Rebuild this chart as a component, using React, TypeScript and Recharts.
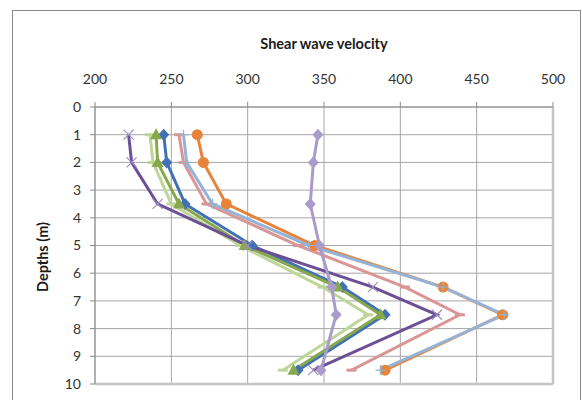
import React from 'react';
import { LineChart, Line, XAxis, YAxis, CartesianGrid, ReferenceLine } from 'recharts';

// depth (m) at each measured point
const depths = [1, 2, 3.5, 5, 6.5, 7.5, 9.5];

// shear wave velocity for each profile
const blueSeries = [245, 247, 259, 303, 362, 390, 333];
const orangeSeries = [267, 271, 286, 344, 428, 467, 390];
const lavenderSeries = [346, 343, 341, 347, 355, 358, 348];
const greenSeries = [240, 241, 255, 298, 359, 387, 330];
const lightGreenSeries = [236, 238, 250, 295, 349, 379, 323];
const purpleSeries = [222, 224, 241, 300, 382, 424, 343];
const pinkSeries = [255, 258, 273, 333, 403, 439, 368];
const lightBlueSeries = [258, 260, 277, 340, 428, 468, 387];

const velocityTicks = [200, 250, 300, 350, 400, 450, 500];
const depthTicks = [0, 1, 2, 3, 4, 5, 6, 7, 8, 9, 10];

type Marker = 'diamond' | 'circle' | 'triangle' | 'x' | 'dash' | 'plus';

interface SeriesDef {
  key: string;
  values: number[];
  color: string;
  marker: Marker;
}

// drawing order = stacking order
const series: SeriesDef[] = [
  { key: 'lightGreen', values: lightGreenSeries, color: '#bfd699', marker: 'dash' },
  { key: 'blue', values: blueSeries, color: '#4271b5', marker: 'diamond' },
  { key: 'green', values: greenSeries, color: '#87a94b', marker: 'triangle' },
  { key: 'purple', values: purpleSeries, color: '#6c5096', marker: 'x' },
  { key: 'pink', values: pinkSeries, color: '#d99694', marker: 'dash' },
  { key: 'orange', values: orangeSeries, color: '#e8833a', marker: 'circle' },
  { key: 'lightBlue', values: lightBlueSeries, color: '#95b3d7', marker: 'plus' },
  { key: 'lavender', values: lavenderSeries, color: '#a99bca', marker: 'diamond' },
];

const data = depths.map((depth, i) => {
  const row: Record<string, number> = { depth };
  series.forEach((s) => {
    row[s.key] = s.values[i];
  });
  return row;
});

const makeDot = (marker: Marker, color: string, name: string) => (props: any) => {
  const { cx, cy, index } = props;
  const k = `${name}-${index}`;
  if (cx == null || cy == null) return <g key={k} />;
  switch (marker) {
    case 'diamond':
      return (
        <polygon
          key={k}
          points={`${cx},${cy - 6} ${cx + 5.5},${cy} ${cx},${cy + 6} ${cx - 5.5},${cy}`}
          fill={color}
        />
      );
    case 'circle':
      return <circle key={k} cx={cx} cy={cy} r={5.5} fill={color} />;
    case 'triangle':
      return (
        <polygon
          key={k}
          points={`${cx},${cy - 6.5} ${cx + 6},${cy + 4.5} ${cx - 6},${cy + 4.5}`}
          fill={color}
        />
      );
    case 'x':
      return (
        <g key={k} stroke="#9c8cc0" strokeWidth={1.2}>
          <line x1={cx - 5} y1={cy - 5} x2={cx + 5} y2={cy + 5} />
          <line x1={cx - 5} y1={cy + 5} x2={cx + 5} y2={cy - 5} />
        </g>
      );
    case 'plus':
      return (
        <g key={k} stroke={color} strokeWidth={1.2}>
          <line x1={cx - 5} y1={cy} x2={cx + 5} y2={cy} />
          <line x1={cx} y1={cy - 5} x2={cx} y2={cy + 5} />
        </g>
      );
    default:
      return <rect key={k} x={cx - 5} y={cy - 1.5} width={10} height={3} fill={color} />;
  }
};

const tickStyle = { fill: '#333', fontSize: 14, fontFamily: 'Lato, sans-serif' };

export default function App() {
  return (
    <div
      style={{
        position: 'absolute',
        left: 0,
        top: 0,
        width: 582,
        height: 400,
        background: '#fff',
        overflow: 'hidden',
        fontFamily: 'Lato, sans-serif',
      }}
    >
      <div
        style={{
          position: 'absolute',
          left: 12,
          top: 10,
          width: 567,
          height: 400,
          border: '1px solid #8a8a8a',
          borderBottom: 'none',
        }}
      />
      <div
        style={{
          position: 'absolute',
          left: 95,
          width: 458,
          top: 35,
          textAlign: 'center',
          fontWeight: 700,
          fontSize: 14.5,
          color: '#1a1a1a',
        }}
      >
        Shear wave velocity
      </div>
      <div
        style={{
          position: 'absolute',
          left: 42,
          top: 257,
          transform: 'translate(-50%, -50%) rotate(-90deg)',
          whiteSpace: 'nowrap',
          fontWeight: 700,
          fontSize: 14.5,
          color: '#1a1a1a',
        }}
      >
        Depths (m)
      </div>
      <div style={{ position: 'absolute', left: 0, top: 0 }}>
        <LineChart
          width={582}
          height={400}
          data={data}
          layout="vertical"
          margin={{ top: 77, right: 29, bottom: 16, left: 65 }}
        >
          <CartesianGrid stroke="#a6a6a6" strokeWidth={1} />
          <XAxis
            type="number"
            orientation="top"
            domain={[200, 500]}
            ticks={velocityTicks}
            interval={0}
            height={30}
            tick={tickStyle}
            tickSize={5}
            tickMargin={18}
            stroke="#8a8a8a"
          />
          <YAxis
            type="number"
            dataKey="depth"
            domain={[0, 10]}
            ticks={depthTicks}
            interval={0}
            width={30}
            tick={tickStyle}
            tickSize={5}
            tickMargin={9}
            stroke="#8a8a8a"
          />
          <ReferenceLine x={500} stroke="#c4c4c4" strokeWidth={2.5} />
          <ReferenceLine y={10} stroke="#c4c4c4" strokeWidth={2.5} />
          {series.map((s) => (
            <Line
              key={s.key}
              dataKey={s.key}
              stroke={s.color}
              strokeWidth={3}
              dot={makeDot(s.marker, s.color, s.key)}
              activeDot={false}
              isAnimationActive={false}
            />
          ))}
        </LineChart>
      </div>
    </div>
  );
}
